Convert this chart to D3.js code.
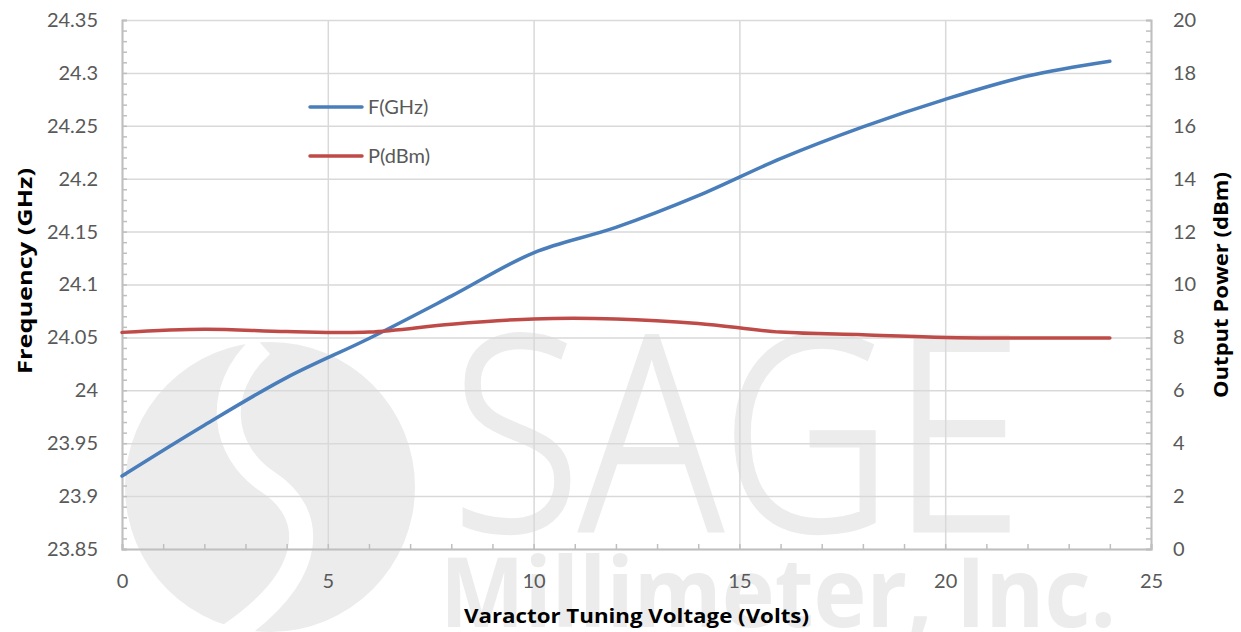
<!DOCTYPE html>
<html>
<head>
<meta charset="utf-8">
<script src="https://cdn.jsdelivr.net/npm/d3@7"></script>
<style>
  body { margin: 0; background: #fff; }
  text { font-family: Lato, "Open Sans", sans-serif; }
  .title { font-family: "Open Sans", sans-serif; font-weight: 700; font-size: 20px; }
</style>
</head>
<body>
<div id="chart"></div>
<script>
// chart values
var volts = [0, 2, 4, 6, 8, 10, 12, 14, 16, 18, 20, 22, 24];
var freqGHz = [23.919, 23.967, 24.012, 24.049, 24.089, 24.13, 24.154, 24.184, 24.219, 24.249, 24.275, 24.297, 24.311];
var powerDbm = [8.19, 8.31, 8.22, 8.2, 8.5, 8.7, 8.7, 8.53, 8.2, 8.1, 8.0, 7.98, 7.98];
var seriesNames = ["F(GHz)", "P(dBm)"];
var xTicks = [0, 5, 10, 15, 20, 25];
var yLeftTicks = [23.85, 23.9, 23.95, 24, 24.05, 24.1, 24.15, 24.2, 24.25, 24.3, 24.35];
var yRightTicks = [0, 2, 4, 6, 8, 10, 12, 14, 16, 18, 20];

var svgWidth = 1241;
var svgHeight = 632;
var margin = { top: 20, right: 90, bottom: 83, left: 122 };
var width = svgWidth - margin.left - margin.right;
var height = svgHeight - margin.top - margin.bottom;

var svg = d3.select("#chart")
  .append("svg")
  .attr("width", svgWidth)
  .attr("height", svgHeight);

svg.append("rect").attr("width", svgWidth).attr("height", svgHeight).attr("fill", "#fff");

// watermark (logo + company name) behind the chart
var wm = svg.append("g").attr("fill", "#ececec");
wm.append("circle").attr("cx", 270).attr("cy", 487).attr("r", 145);
wm.append("path")
  .attr("d", "M262,345 C212,390 222,452 268,482 S322,572 228,636")
  .attr("fill", "none").attr("stroke", "#fff").attr("stroke-width", 24);
wm.append("text")
  .attr("x", 452).attr("y", 530)
  .attr("textLength", 570).attr("lengthAdjust", "spacingAndGlyphs")
  .attr("stroke", "#ececec").attr("stroke-width", 5)
  .style("font-family", "'Open Sans', sans-serif")
  .style("font-weight", 300)
  .style("font-size", "270px")
  .text("SAGE");
wm.append("text")
  .attr("x", 440).attr("y", 627)
  .attr("textLength", 676).attr("lengthAdjust", "spacingAndGlyphs")
  .style("font-family", "'Open Sans', sans-serif")
  .style("font-weight", 700)
  .style("font-size", "96px")
  .text("Millimeter, Inc.");

var chartGroup = svg.append("g")
  .attr("transform", `translate(${margin.left}, ${margin.top})`);

var xScale = d3.scaleLinear().domain([0, 25]).range([0, width]);
var yLeft = d3.scaleLinear().domain([23.85, 24.35]).range([height, 0]);
var yRight = d3.scaleLinear().domain([0, 20]).range([height, 0]);

// gridlines
chartGroup.append("g")
  .attr("class", "grid")
  .call(d3.axisLeft(yLeft).tickValues(yLeftTicks).tickSize(-width).tickFormat(""));
chartGroup.append("g")
  .attr("class", "grid")
  .attr("transform", `translate(0, ${height})`)
  .call(d3.axisBottom(xScale).tickValues(xTicks).tickSize(-height).tickFormat(""));
chartGroup.selectAll(".grid .domain").remove();
chartGroup.selectAll(".grid line").attr("stroke", "#d9d9d9").attr("stroke-width", 1.5);

// minor ticks (inside)
chartGroup.append("g").attr("class", "minor")
  .call(d3.axisLeft(yLeft).tickValues(d3.range(0, 51).map(i => 23.85 + i * 0.01)).tickSize(-5).tickFormat(""));
chartGroup.append("g").attr("class", "minor")
  .attr("transform", `translate(${width}, 0)`)
  .call(d3.axisRight(yRight).tickValues(d3.range(0, 51).map(i => i * 0.4)).tickSize(-5).tickFormat(""));
chartGroup.append("g").attr("class", "minor")
  .attr("transform", `translate(0, ${height})`)
  .call(d3.axisBottom(xScale).tickValues(d3.range(0, 26)).tickSize(-5).tickFormat(""));
chartGroup.selectAll(".minor line").attr("stroke", "#bfbfbf").attr("stroke-width", 1.5);
chartGroup.selectAll(".minor .domain").attr("stroke", "#bfbfbf").attr("stroke-width", 2);

// tick labels
var leftAxis = chartGroup.append("g")
  .call(d3.axisLeft(yLeft).tickValues(yLeftTicks).tickSize(0).tickPadding(24)
    .tickFormat(d => String(+d.toFixed(2))));
var rightAxis = chartGroup.append("g")
  .attr("transform", `translate(${width}, 0)`)
  .call(d3.axisRight(yRight).tickValues(yRightTicks).tickSize(0).tickPadding(22));
var bottomAxis = chartGroup.append("g")
  .attr("transform", `translate(0, ${height})`)
  .call(d3.axisBottom(xScale).tickValues(xTicks).tickSize(0).tickPadding(25));
[leftAxis, rightAxis, bottomAxis].forEach(a => {
  a.select(".domain").remove();
  a.selectAll("text")
    .attr("fill", "#595959")
    .style("font-size", "20px");
});

// lines
var freqLine = d3.line()
  .x((d, i) => xScale(volts[i]))
  .y(d => yLeft(d))
  .curve(d3.curveCatmullRom.alpha(0.5));
var powerLine = d3.line()
  .x((d, i) => xScale(volts[i]))
  .y(d => yRight(d))
  .curve(d3.curveCatmullRom.alpha(0.5));

chartGroup.append("path")
  .datum(freqGHz)
  .attr("d", freqLine)
  .attr("fill", "none")
  .attr("stroke", "#4a7ebb")
  .attr("stroke-width", 3.5)
  .attr("stroke-linecap", "round");

chartGroup.append("path")
  .datum(powerDbm)
  .attr("d", powerLine)
  .attr("fill", "none")
  .attr("stroke", "#be4b48")
  .attr("stroke-width", 3.5)
  .attr("stroke-linecap", "round");

// legend
var legendColors = ["#4a7ebb", "#be4b48"];
var legend = svg.append("g");
seriesNames.forEach((name, i) => {
  var ly = 107 + i * 49;
  legend.append("line")
    .attr("x1", 310).attr("x2", 362)
    .attr("y1", ly).attr("y2", ly)
    .attr("stroke", legendColors[i])
    .attr("stroke-width", 3.5)
    .attr("stroke-linecap", "round");
  legend.append("text")
    .attr("x", 368).attr("y", ly)
    .attr("dy", "0.35em")
    .attr("fill", "#595959")
    .style("font-size", "20px")
    .text(name);
});

// axis titles
svg.append("text")
  .attr("class", "title")
  .attr("x", margin.left + width / 2)
  .attr("y", 623)
  .attr("text-anchor", "middle")
  .attr("textLength", 345).attr("lengthAdjust", "spacingAndGlyphs")
  .text("Varactor Tuning Voltage (Volts)");

svg.append("text")
  .attr("class", "title")
  .attr("transform", "rotate(-90)")
  .attr("x", -271)
  .attr("y", 32)
  .attr("text-anchor", "middle")
  .attr("textLength", 206).attr("lengthAdjust", "spacingAndGlyphs")
  .text("Frequency (GHz)");

svg.append("text")
  .attr("class", "title")
  .attr("transform", "rotate(-90)")
  .attr("x", -285)
  .attr("y", 1228)
  .attr("text-anchor", "middle")
  .attr("textLength", 226).attr("lengthAdjust", "spacingAndGlyphs")
  .text("Output Power (dBm)");
</script>
</body>
</html>
